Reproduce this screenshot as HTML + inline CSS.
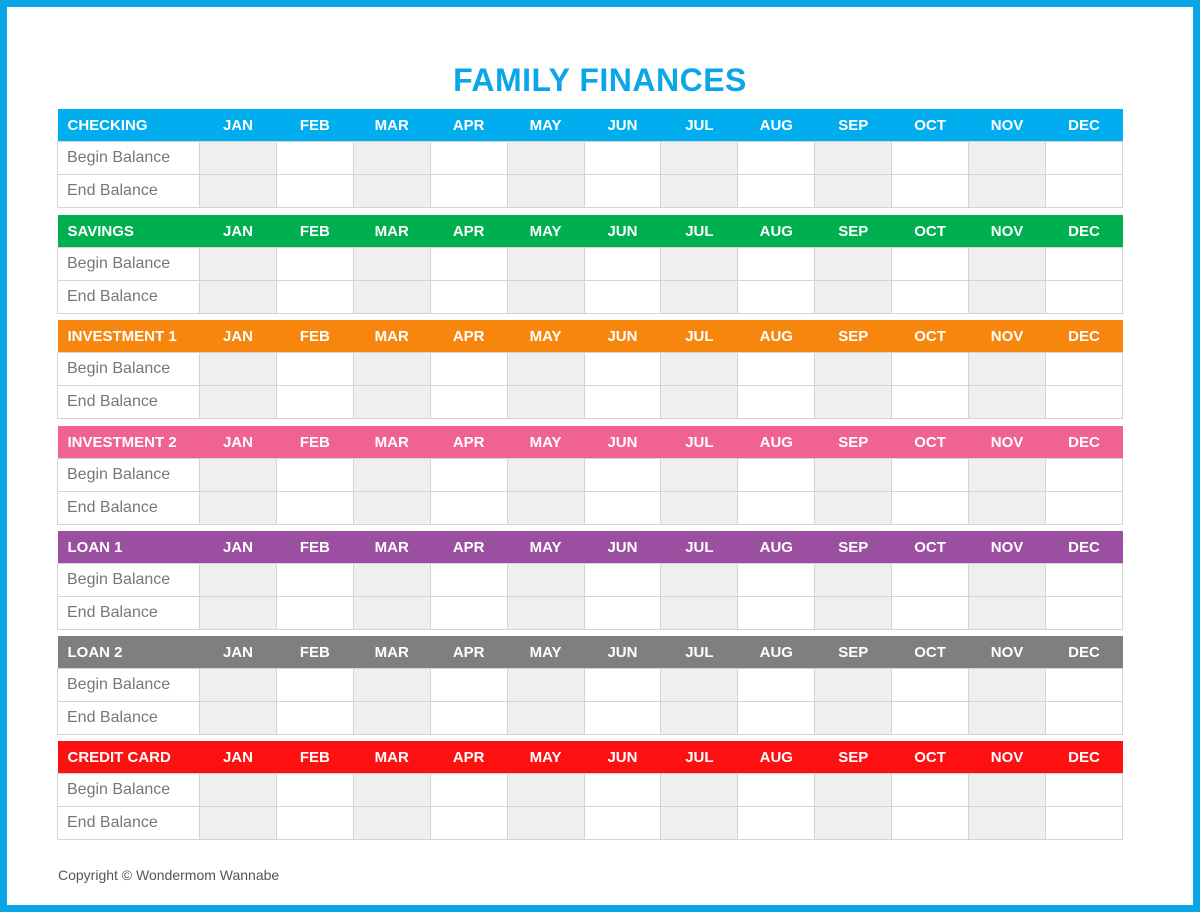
<!DOCTYPE html>
<html><head><style>
body{margin:0;width:1200px;height:912px;overflow:hidden;background:#fff;font-family:"Liberation Sans",sans-serif}
.frame{position:absolute;left:0;top:0;width:1186px;height:898px;border:7px solid #0aa6e8}
h1{position:absolute;left:0;width:1200px;top:62px;margin:0;text-align:center;font-size:32px;font-weight:bold;color:#0aa6e8;letter-spacing:0.5px}
table{position:absolute;left:57px;width:1066px;border-collapse:collapse;table-layout:fixed}
td{border:1px solid #d4d4d4;height:32px;padding:0;font-size:16px;color:#777}
tr.h td{border:none;color:#fff;font-weight:bold;text-align:center;height:32px;font-size:15px}
tr.h td:first-child{text-align:left;padding-left:10px}
td.l{padding-left:9px}
td.g{background:#efefef}
.copy{position:absolute;left:58px;top:867px;font-size:14px;color:#555}
</style></head><body>
<div class="frame"></div>
<h1>FAMILY FINANCES</h1>
<div id="c"></div>
<div class="copy">Copyright © Wondermom Wannabe</div>
<script>
var names=["CHECKING","SAVINGS","INVESTMENT 1","INVESTMENT 2","LOAN 1","LOAN 2","CREDIT CARD"];
var cols=["#00aeef","#00b050","#f7860f","#f06292","#9b4fa0","#7f7f7f","#ff1010"];
var tops=[109,215,320,426,531,636,741];
var m=["JAN","FEB","MAR","APR","MAY","JUN","JUL","AUG","SEP","OCT","NOV","DEC"];
var h="";
for(var i=0;i<7;i++){
 h+='<table style="top:'+tops[i]+'px"><colgroup><col style="width:142px">';
 for(var j=0;j<12;j++)h+='<col>';
 h+='</colgroup><tr class="h" style="background:'+cols[i]+'"><td>'+names[i]+'</td>';
 for(var j=0;j<12;j++)h+='<td>'+m[j]+'</td>';
 h+='</tr>';
 ["Begin Balance","End Balance"].forEach(function(r){
  h+='<tr><td class="l">'+r+'</td>';
  for(var j=0;j<12;j++)h+='<td'+(j%2==0?' class="g"':'')+'></td>';
  h+='</tr>';
 });
 h+='</table>';
}
document.getElementById('c').innerHTML=h;
</script>
</body></html>
